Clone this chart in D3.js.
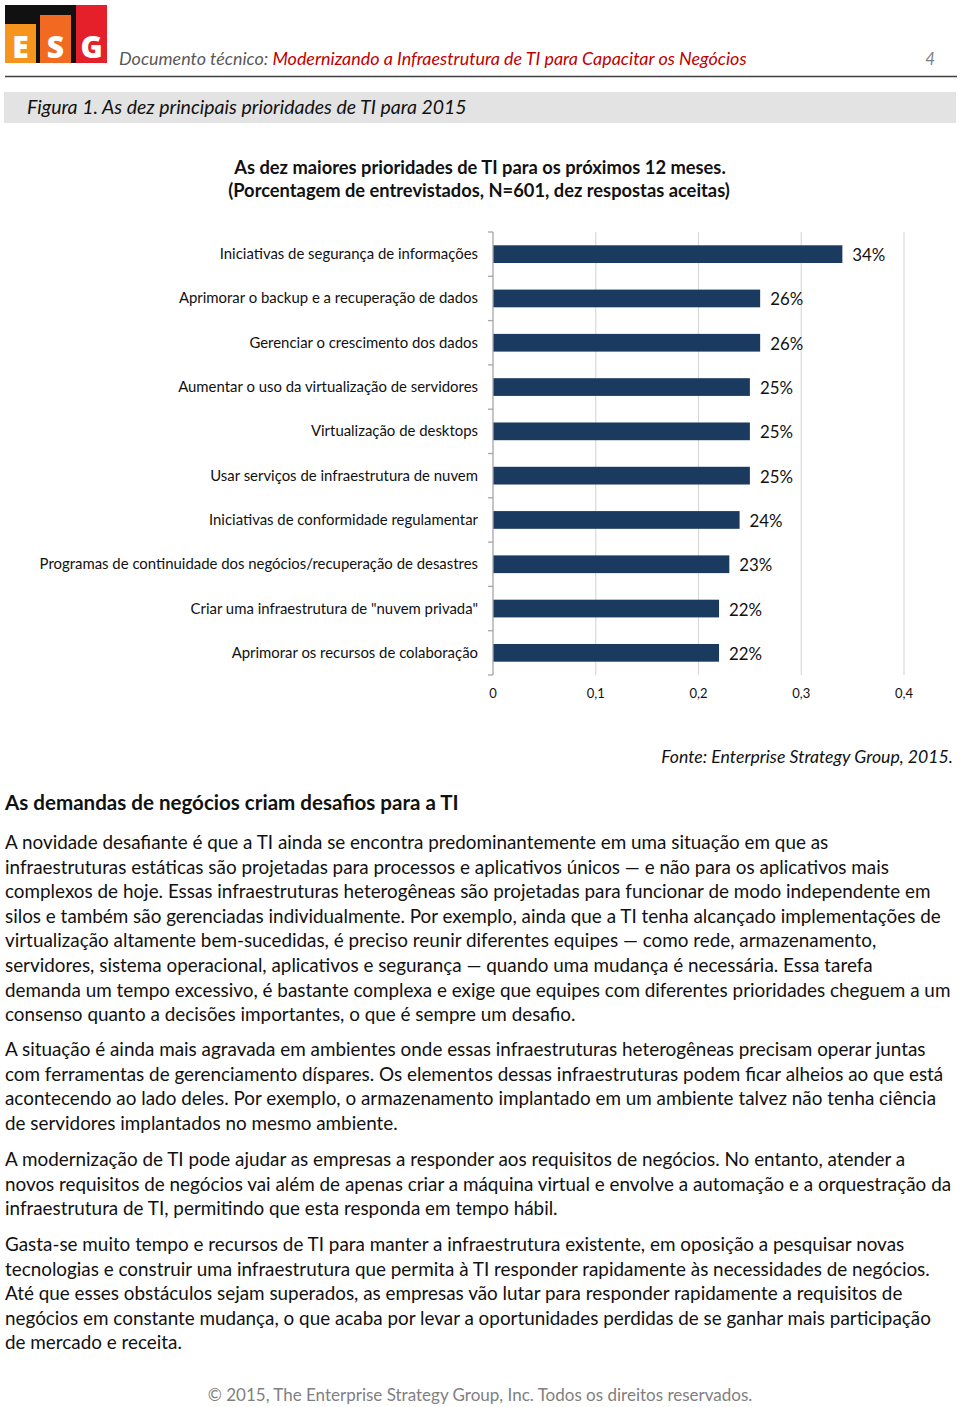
<!DOCTYPE html>
<html><head><meta charset="utf-8">
<script src="https://cdn.jsdelivr.net/npm/d3@7"></script>
<style>
html,body{margin:0;padding:0;background:#fff;}
svg{display:block;}
text{font-family:Lato,"Open Sans",sans-serif;}
</style></head>
<body>
<script>
const categories = [
 "Iniciativas de segurança de informações",
 "Aprimorar o backup e a recuperação de dados",
 "Gerenciar o crescimento dos dados",
 "Aumentar o uso da virtualização de servidores",
 "Virtualização de desktops",
 "Usar serviços de infraestrutura de nuvem",
 "Iniciativas de conformidade regulamentar",
 "Programas de continuidade dos negócios/recuperação de desastres",
 "Criar uma infraestrutura de \"nuvem privada\"",
 "Aprimorar os recursos de colaboração"
];
const values = [0.34,0.26,0.26,0.25,0.25,0.25,0.24,0.23,0.22,0.22];
const xTicks = [0,0.1,0.2,0.3,0.4];
const chartTitle = ["As dez maiores prioridades de TI para os próximos 12 meses.",
 "(Porcentagem de entrevistados, N=601, dez respostas aceitas)"];
const headerGray = "Documento técnico: ";
const headerRed = "Modernizando a Infraestrutura de TI para Capacitar os Negócios";
const pageNum = "4";
const figCaption = "Figura 1. As dez principais prioridades de TI para 2015";
const sourceText = "Fonte: Enterprise Strategy Group, 2015.";
const heading = "As demandas de negócios criam desafios para a TI";
const paragraphs = [
 ["A novidade desafiante é que a TI ainda se encontra predominantemente em uma situação em que as",
  "infraestruturas estáticas são projetadas para processos e aplicativos únicos — e não para os aplicativos mais",
  "complexos de hoje. Essas infraestruturas heterogêneas são projetadas para funcionar de modo independente em",
  "silos e também são gerenciadas individualmente. Por exemplo, ainda que a TI tenha alcançado implementações de",
  "virtualização altamente bem-sucedidas, é preciso reunir diferentes equipes — como rede, armazenamento,",
  "servidores, sistema operacional, aplicativos e segurança — quando uma mudança é necessária. Essa tarefa",
  "demanda um tempo excessivo, é bastante complexa e exige que equipes com diferentes prioridades cheguem a um",
  "consenso quanto a decisões importantes, o que é sempre um desafio."],
 ["A situação é ainda mais agravada em ambientes onde essas infraestruturas heterogêneas precisam operar juntas",
  "com ferramentas de gerenciamento díspares. Os elementos dessas infraestruturas podem ficar alheios ao que está",
  "acontecendo ao lado deles. Por exemplo, o armazenamento implantado em um ambiente talvez não tenha ciência",
  "de servidores implantados no mesmo ambiente."],
 ["A modernização de TI pode ajudar as empresas a responder aos requisitos de negócios. No entanto, atender a",
  "novos requisitos de negócios vai além de apenas criar a máquina virtual e envolve a automação e a orquestração da",
  "infraestrutura de TI, permitindo que esta responda em tempo hábil."],
 ["Gasta-se muito tempo e recursos de TI para manter a infraestrutura existente, em oposição a pesquisar novas",
  "tecnologias e construir uma infraestrutura que permita à TI responder rapidamente às necessidades de negócios.",
  "Até que esses obstáculos sejam superados, as empresas vão lutar para responder rapidamente a requisitos de",
  "negócios em constante mudança, o que acaba por levar a oportunidades perdidas de se ganhar mais participação",
  "de mercado e receita."]
];
const footer = "© 2015, The Enterprise Strategy Group, Inc. Todos os direitos reservados.";

const W = 960, H = 1407;
const svg = d3.select("body").append("svg").attr("width", W).attr("height", H);

function fitSize(sel, target) {
  const n = sel.node();
  const s = parseFloat(sel.attr("font-size"));
  const w = n.getComputedTextLength();
  const ns = s * target / w;
  sel.attr("font-size", ns);
  return ns;
}

// ---- Logo ----
const logo = svg.append("g");
logo.append("rect").attr("x",5).attr("y",5).attr("width",102).attr("height",58).attr("fill","#111");
const logoBars = [{l:"E",x:5,top:24,c:"#f7941d"},{l:"S",x:40,top:15,c:"#f26a21"},{l:"G",x:76,top:5,c:"#e5202a"}];
logoBars.forEach(b=>{
  logo.append("rect").attr("x",b.x).attr("y",b.top).attr("width",31).attr("height",63-b.top).attr("fill",b.c);
  logo.append("text").attr("x",b.x+15.5).attr("y",58).attr("text-anchor","middle")
    .attr("font-size",30).attr("font-weight",800).attr("fill","#fff")
    .style("font-family","'Open Sans','DejaVu Sans',sans-serif").text(b.l);
});

// ---- Header ----
const hdr = svg.append("text").attr("x",119).attr("y",65).attr("font-size",17).attr("font-style","italic");
hdr.append("tspan").attr("fill","#595959").text(headerGray);
hdr.append("tspan").attr("fill","#c00000").text(headerRed);
fitSize(hdr, 628);
svg.append("text").attr("x",935).attr("y",65).attr("text-anchor","end").attr("font-size",17)
  .attr("font-style","italic").attr("fill","#7f7f7f").text(pageNum);
svg.append("line").attr("x1",5).attr("x2",957).attr("y1",76.5).attr("y2",76.5)
  .attr("stroke","#3f3f3f").attr("stroke-width",1.5);

// ---- Figure caption band ----
svg.append("rect").attr("x",4).attr("y",92).attr("width",952).attr("height",31).attr("fill","#e3e3e3");
const cap = svg.append("text").attr("x",27).attr("y",114).attr("font-size",18).attr("font-style","italic")
  .attr("fill","#111").text(figCaption);
fitSize(cap, 440);

// ---- Chart title ----
const t1 = svg.append("text").attr("x",480).attr("y",174).attr("text-anchor","middle")
  .attr("font-size",17).attr("font-weight",700).attr("fill","#111").text(chartTitle[0]);
const t2 = svg.append("text").attr("x",479).attr("y",197).attr("text-anchor","middle")
  .attr("font-size",17).attr("font-weight",700).attr("fill","#111").text(chartTitle[1]);
const ts = fitSize(t2, 502);
t1.attr("font-size", ts);

// ---- Chart ----
const x = d3.scaleLinear().domain([0,0.4]).range([493,904]);
const y = d3.scaleBand().domain(categories).range([232,675]).paddingInner(0.6).paddingOuter(0.3);
const fmt = d3.formatLocale({decimal:",",thousands:".",grouping:[3],currency:["","€"]});
const tickFmt = d => d===0 ? "0" : fmt.format(".1f")(d);
const pctFmt = d => Math.round(d*100) + "%";

const chart = svg.append("g");
chart.selectAll("line.grid").data(xTicks.filter(d=>d>0)).join("line")
  .attr("x1",d=>x(d)).attr("x2",d=>x(d)).attr("y1",232).attr("y2",675)
  .attr("stroke","#d9d9d9").attr("stroke-width",1.2);
chart.selectAll("rect.bar").data(values).join("rect")
  .attr("x",x(0)).attr("y",(d,i)=>y(categories[i]))
  .attr("width",d=>x(d)-x(0)).attr("height",y.bandwidth())
  .attr("fill","#1b3a60");
chart.append("line").attr("x1",493).attr("x2",493).attr("y1",232).attr("y2",675)
  .attr("stroke","#a6a6a6").attr("stroke-width",1.3);
const step = y.step();
const bounds = d3.range(categories.length+1).map(i => y.range()[0] + i*step);
chart.selectAll("line.tk").data(bounds).join("line")
  .attr("x1",488).attr("x2",493).attr("y1",d=>d).attr("y2",d=>d)
  .attr("stroke","#a6a6a6").attr("stroke-width",1.3);
const catLabels = chart.selectAll("text.cat").data(categories).join("text")
  .attr("x",478).attr("y",d=>y(d)+y.bandwidth()/2+5).attr("text-anchor","end")
  .attr("font-size",14).attr("fill","#111").text(d=>d);
const longest = catLabels.filter((d,i)=>i===7);
const cs = fitSize(longest, 439);
catLabels.attr("font-size", cs);
const valLabels = chart.selectAll("text.val").data(values).join("text")
  .attr("x",d=>x(d)+10).attr("y",(d,i)=>y(categories[i])+y.bandwidth()/2+7)
  .attr("font-size",16).attr("fill","#111").text(pctFmt);
const vs = fitSize(valLabels.filter((d,i)=>i===0), 33);
valLabels.attr("font-size", vs);
chart.selectAll("text.xt").data(xTicks).join("text")
  .attr("x",d=>x(d)).attr("y",698).attr("text-anchor","middle")
  .attr("font-size",13).attr("fill","#111").text(tickFmt);

// ---- Source ----
const src = svg.append("text").attr("x",953).attr("y",763).attr("text-anchor","end")
  .attr("font-size",16).attr("font-style","italic").attr("fill","#111").text(sourceText);
fitSize(src, 292);

// ---- Heading ----
const hd = svg.append("text").attr("x",5).attr("y",810).attr("font-size",19).attr("font-weight",700)
  .attr("fill","#111").text(heading);
fitSize(hd, 454);

// ---- Body ----
const paraTops = [849, 1056, 1166, 1251];
const lh = 24.6;
const bodyG = svg.append("g");
const calib = bodyG.append("text").attr("x",5).attr("y",-100).attr("font-size",18).text(paragraphs[2][1]);
const bs = fitSize(calib, 947);
calib.remove();
paragraphs.forEach((p,pi)=>{
  bodyG.selectAll(null).data(p).join("text")
    .attr("x",5).attr("y",(d,i)=>paraTops[pi]+i*lh)
    .attr("font-size",bs).attr("fill","#111").text(d=>d);
});

// ---- Footer ----
const ft = svg.append("text").attr("x",480).attr("y",1401).attr("text-anchor","middle")
  .attr("font-size",16).attr("fill","#808080").text(footer);
fitSize(ft, 545);
</script>
</body></html>
